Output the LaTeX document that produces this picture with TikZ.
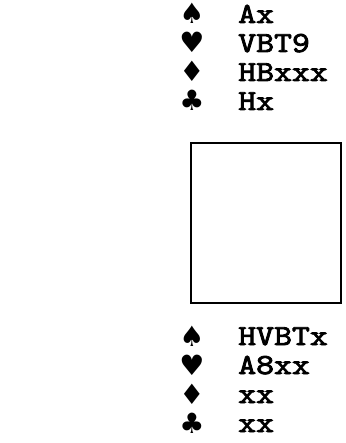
\documentclass[tikz,border=0pt]{standalone}
\usepackage{fontspec}
\newfontfamily\suitfont{DejaVu Sans}
\newfontfamily\handfont{Latin Modern Mono}[FakeBold=3, FakeStretch=1.2]
\usetikzlibrary{positioning}

\begin{document}
\begin{tikzpicture}[x=1pt,y=-1pt,
    suit/.style = {font=\suitfont\fontsize{28}{28}\selectfont, inner sep=0pt, text height=20pt, text depth=0pt},
    hand/.style = {font=\handfont\fontsize{29}{29}\selectfont, anchor=base west, inner sep=0pt}]
      \useasboundingbox (0,0) rectangle (345,443);

      % north hand
      \node[suit] at (192, 14) (ns){♠};
      \node[suit] at (192, 43) (nh){♥};
      \node[suit] at (192, 72) (nd){♦};
      \node[suit] at (192, 101) (nc){♣};
      \node[hand] at (238, 23) (nS){Ax};
      \node[hand] at (238, 52) (nH){VBT9};
      \node[hand] at (238, 81) (nD){HBxxx};
      \node[hand] at (238, 110) (nC){Hx};

      % table
      \node[draw, line width=2.2pt, minimum width=150pt, minimum height=160pt,
        inner sep=0pt] at (266, 223) (table){};

      % south hand
      \node[suit] at (192, 336) (ss){♠};
      \node[suit] at (192, 365) (sh){♥};
      \node[suit] at (192, 394) (sd){♦};
      \node[suit] at (192, 423) (sc){♣};
      \node[hand] at (238, 345) (sS){HVBTx};
      \node[hand] at (238, 374) (sH){A8xx};
      \node[hand] at (238, 403) (sD){xx};
      \node[hand] at (238, 432) (sC){xx};
    \end{tikzpicture}
\end{document}
